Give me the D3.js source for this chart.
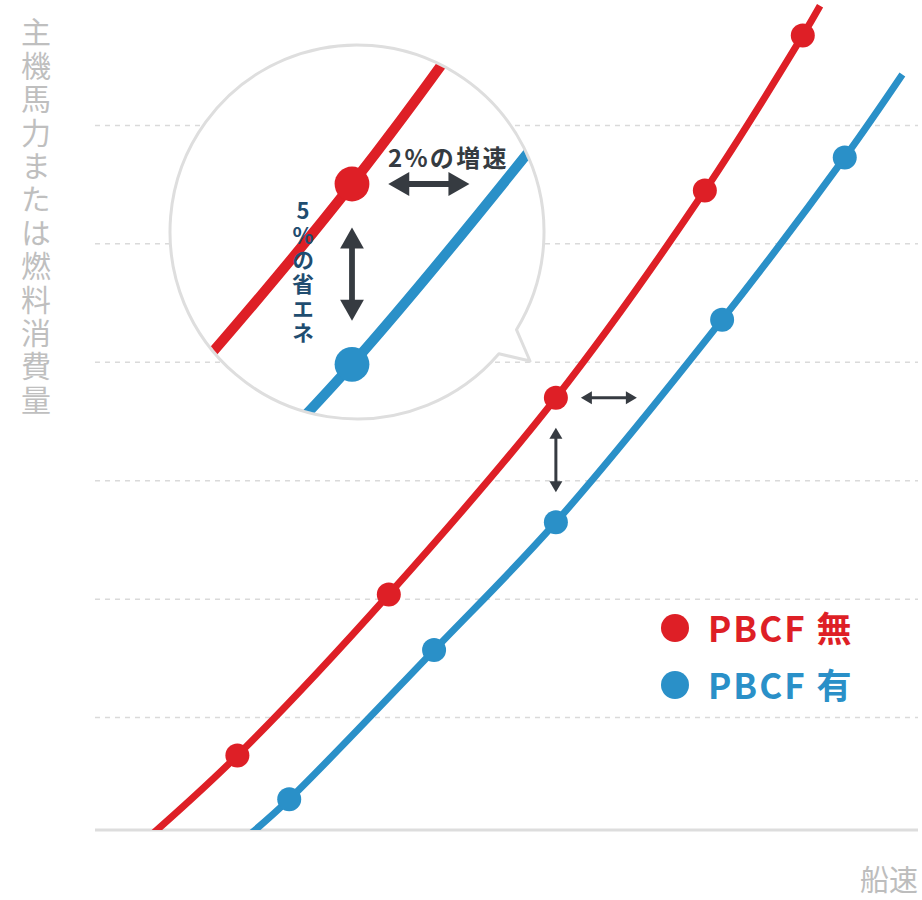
<!DOCTYPE html>
<html>
<head>
<meta charset="utf-8">
<script src="https://cdn.jsdelivr.net/npm/d3@7"></script>
<style>
body { margin: 0; background: #fff; }
text { font-family: "Noto Sans CJK JP", "Noto Sans", sans-serif; }
.vertical { writing-mode: vertical-rl; text-orientation: upright; }
</style>
</head>
<body>
<div id="chart"></div>
<script>
// values (speed / power in arbitrary units)
var seriesNames = ["PBCF 無", "PBCF 有"];
var seriesColors = ["#de1f26", "#2a90c8"];
var noPbcfSpeed = [0.67, 1.73, 3.57, 5.6, 7.41, 8.6, 8.81];
var noPbcfPower = [0, 0.68, 2.04, 3.7, 5.45, 6.76, 7.01];
var pbcfSpeed = [1.86, 2.36, 4.12, 5.6, 7.62, 9.11, 9.81];
var pbcfPower = [0, 0.31, 1.57, 2.65, 4.36, 5.73, 6.43];
var markerIndex = [1, 2, 3, 4, 5];
var focusIndex = 3;
var gridValues = [1, 2, 3, 4, 5, 6];
var yLabel = "主機馬力または燃料消費量";
var xLabel = "船速";
var speedUpLabel = "2%の増速";
var savingLabel = "5%の省エネ";

var width = 922, height = 900;
var baseY = 830;

var x = d3.scaleLinear().domain([0, 10]).range([95, 918]);
var y = d3.scaleLinear().domain([0, 7]).range([836, 7]);

var series = [
	{ name: seriesNames[0], color: seriesColors[0], pts: noPbcfSpeed.map(function (s, i) { return [s, noPbcfPower[i]]; }) },
	{ name: seriesNames[1], color: seriesColors[1], pts: pbcfSpeed.map(function (s, i) { return [s, pbcfPower[i]]; }) }
];

var svg = d3.select("#chart")
	.append("svg")
	.attr("width", width)
	.attr("height", height);

var defs = svg.append("defs");
defs.append("clipPath").attr("id", "plot-clip")
	.append("rect")
	.attr("x", 0).attr("y", 0)
	.attr("width", width).attr("height", baseY);

var line = d3.line()
	.x(function (d) { return x(d[0]); })
	.y(function (d) { return y(d[1]); })
	.curve(d3.curveCatmullRom.alpha(0.5));

// dashed grid
svg.selectAll(".grid")
	.data(gridValues)
	.enter()
	.append("line")
	.attr("class", "grid")
	.attr("x1", x(0)).attr("x2", x(10))
	.attr("y1", function (d) { return y(d); })
	.attr("y2", function (d) { return y(d); })
	.attr("stroke", "#dadada")
	.attr("stroke-width", 1.5)
	.attr("stroke-dasharray", "5,5");

svg.append("line")
	.attr("x1", x(0)).attr("x2", x(10))
	.attr("y1", baseY).attr("y2", baseY)
	.attr("stroke", "#dddddd")
	.attr("stroke-width", 3);

function drawArrow(g, x1, y1, x2, y2, hl, hw, sw) {
	var dx = x2 - x1, dy = y2 - y1;
	var len = Math.sqrt(dx * dx + dy * dy);
	var ux = dx / len, uy = dy / len, px = -uy, py = ux;
	g.append("line")
		.attr("x1", x1 + ux * hl * 0.7).attr("y1", y1 + uy * hl * 0.7)
		.attr("x2", x2 - ux * hl * 0.7).attr("y2", y2 - uy * hl * 0.7)
		.attr("stroke", "#363b41")
		.attr("stroke-width", sw);
	[[x1, y1, 1], [x2, y2, -1]].forEach(function (e) {
		var bx = e[0] + e[2] * ux * hl, by = e[1] + e[2] * uy * hl;
		g.append("path")
			.attr("d", "M" + e[0] + "," + e[1] +
				"L" + (bx + px * hw) + "," + (by + py * hw) +
				"L" + (bx - px * hw) + "," + (by - py * hw) + "Z")
			.attr("fill", "#363b41");
	});
}

function drawSeries(g, hl, hw, sw) {
	g.selectAll(".curve")
		.data(series)
		.enter()
		.append("path")
		.attr("class", "curve")
		.attr("d", function (d) { return line(d.pts); })
		.attr("fill", "none")
		.attr("stroke", function (d) { return d.color; })
		.attr("stroke-width", 7);

	series.forEach(function (s) {
		g.selectAll(null)
			.data(markerIndex)
			.enter()
			.append("circle")
			.attr("cx", function (i) { return x(s.pts[i][0]); })
			.attr("cy", function (i) { return y(s.pts[i][1]); })
			.attr("r", 12)
			.attr("fill", s.color);
	});

	// speed gain / power saving arrows around the focus point
	var fx = x(series[0].pts[focusIndex][0]);
	var fyTop = y(series[0].pts[focusIndex][1]);
	var fyBot = y(series[1].pts[focusIndex][1]);
	drawArrow(g, fx + 25, fyTop, fx + 81, fyTop, hl, hw, sw);
	drawArrow(g, fx, fyTop + 30, fx, fyBot - 30, hl, hw, sw);
}

var plot = svg.append("g").attr("clip-path", "url(#plot-clip)");
drawSeries(plot, 11, 6.5, 3);

// magnified inset (speech bubble)
var cx = 357, cy = 232, cr = 187;
var tip = [530, 361];
var a0 = Math.atan2(353 - cy, 498 - cx), a1 = Math.atan2(330 - cy, 517 - cx);
var bubble = d3.path();
bubble.moveTo(cx + cr * Math.cos(a0), cy + cr * Math.sin(a0));
bubble.arc(cx, cy, cr, a0, a1 + 2 * Math.PI, false);
bubble.lineTo(tip[0], tip[1]);
bubble.closePath();

svg.append("path")
	.attr("d", bubble.toString())
	.attr("fill", "#fff")
	.attr("stroke", "#dedede")
	.attr("stroke-width", 3)
	.attr("stroke-linejoin", "round");

defs.append("clipPath").attr("id", "inset-clip")
	.append("circle")
	.attr("cx", cx).attr("cy", cy).attr("r", cr - 1.5);

var zoomK = 1.45;
var focusX = x(series[0].pts[focusIndex][0]);
var focusY = y(series[0].pts[focusIndex][1]);
var inset = svg.append("g")
	.attr("clip-path", "url(#inset-clip)")
	.append("g")
	.attr("transform", "translate(352,184) scale(" + zoomK + ") translate(" + (-focusX) + "," + (-focusY) + ")");
drawSeries(inset, 14.5, 8.2, 4);

svg.append("text")
	.attr("x", 388)
	.attr("y", 167)
	.attr("font-size", 24)
	.attr("font-weight", "bold")
	.attr("letter-spacing", 2.3)
	.attr("fill", "#353b41")
	.text(speedUpLabel);

svg.append("text")
	.attr("class", "vertical")
	.attr("x", 303)
	.attr("y", 200)
	.attr("font-size", 22)
	.attr("font-weight", "bold")
	.attr("letter-spacing", 2.3)
	.attr("fill", "#1f4d70")
	.text(savingLabel);

// axis titles
svg.append("text")
	.attr("class", "vertical")
	.attr("x", 36)
	.attr("y", 17)
	.attr("font-size", 30)
	.attr("letter-spacing", 3.4)
	.attr("fill", "#bfbfbf")
	.text(yLabel);

svg.append("text")
	.attr("x", 918)
	.attr("y", 891)
	.attr("text-anchor", "end")
	.attr("font-size", 29)
	.attr("fill", "#bdbdbd")
	.text(xLabel);

// legend
var legend = svg.selectAll(".legend")
	.data(series)
	.enter()
	.append("g")
	.attr("class", "legend")
	.attr("transform", function (d, i) { return "translate(675," + (628 + i * 57) + ")"; });

legend.append("circle")
	.attr("r", 14)
	.attr("fill", function (d) { return d.color; });

legend.append("text")
	.attr("x", 33)
	.attr("y", 14)
	.attr("font-size", 35)
	.attr("font-weight", "bold")
	.attr("letter-spacing", 2)
	.attr("fill", function (d) { return d.color; })
	.text(function (d) { return d.name; });
</script>
</body>
</html>
